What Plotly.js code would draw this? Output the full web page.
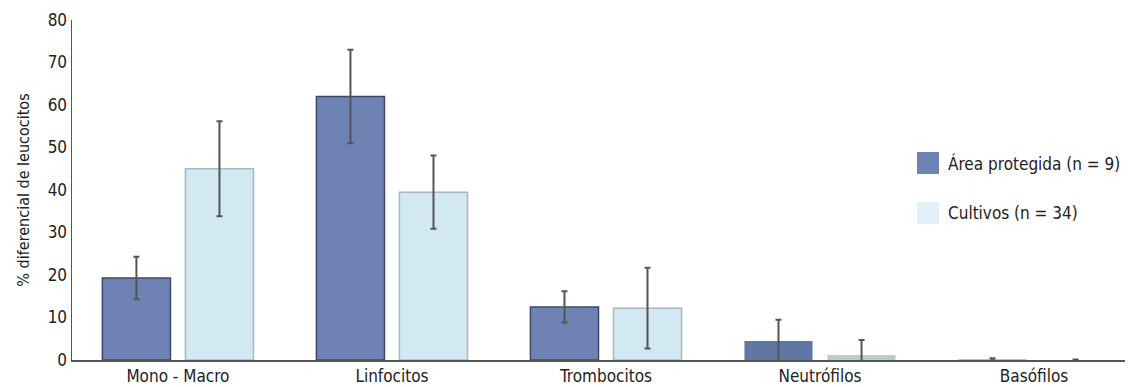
<!DOCTYPE html>
<html>
<head>
<meta charset="utf-8">
<script src="https://cdn.plot.ly/plotly-3.0.1.min.js"></script>
<style>html,body{margin:0;padding:0;background:#fff;}#chart{width:1129px;height:387px;}</style>
</head>
<body>
<div id="chart"></div>
<script>
const categories = ["Mono - Macro", "Linfocitos", "Trombocitos", "Neutrófilos", "Basófilos"];
const areaValues = [19.3, 62.0, 12.5, 4.5, 0.1];
const areaErrors = [5.0, 11.0, 3.7, 5.0, 0.3];
const cultivosValues = [45.0, 39.5, 12.2, 1.2, 0.0];
const cultivosErrors = [11.2, 8.6, 9.5, 3.5, 0.1];
const seriesNames = ["Área protegida (n = 9)", "Cultivos (n = 34)"];

const FONT = '"Liberation Sans Narrow", "DejaVu Sans Condensed", "Roboto Condensed", Arial, sans-serif';

const areaColors = ["#6e82b4", "#6e82b4", "#6e82b4", "#5f78a3", "#6e82b4"];
const areaLines = ["#3e4a6a", "#3e4a6a", "#3e4a6a", "#5f78a3", "#3e4a6a"];
const cultColors = ["#d2e8f2", "#d2e8f2", "#d2e8f2", "#b6cece", "#d2e8f2"];
const cultLines = ["#a9b8c0", "#a9b8c0", "#a9b8c0", "#b6cece", "#a9b8c0"];
const lineWidths = [1.5, 1.5, 1.5, 0, 0];

const traces = [
  {
    type: "bar", name: seriesNames[0], x: categories, y: areaValues, showlegend: false,
    marker: {color: areaColors, line: {color: areaLines, width: lineWidths}},
    error_y: {type: "data", array: areaErrors, visible: true, color: "#555555", thickness: 2, width: 3}
  },
  {
    type: "bar", name: seriesNames[1], x: categories, y: cultivosValues, showlegend: false,
    marker: {color: cultColors, line: {color: cultLines, width: lineWidths}},
    error_y: {type: "data", array: cultivosErrors, visible: true, color: "#555555", thickness: 2, width: 3}
  }
];

// legend drawn in pixel-like paper coordinates
const L = 72, T = 20, W = 1053, H = 340;
const px = v => (v - L) / W;
const py = v => 1 - (v - T) / H;

const legendItems = [
  {name: seriesNames[0], color: "#6e82b4", top: 152},
  {name: seriesNames[1], color: "#e2f1f7", top: 202}
];
const shapes = legendItems.map(it => ({
  type: "rect", xref: "paper", yref: "paper",
  x0: px(917), x1: px(939), y0: py(it.top + 22), y1: py(it.top),
  fillcolor: it.color, line: {width: 0}
}));
const annotations = legendItems.map(it => ({
  xref: "paper", yref: "paper", x: px(946), y: py(it.top + 11),
  xanchor: "left", yanchor: "middle", showarrow: false, text: it.name,
  font: {family: FONT, size: 17, color: "#222"}
}));

const layout = {
  width: 1129, height: 387,
  margin: {l: L, r: 1129 - L - W, t: T, b: 387 - T - H},
  paper_bgcolor: "#ffffff", plot_bgcolor: "#ffffff",
  font: {family: FONT, size: 17, color: "#222222"},
  barmode: "group", bargap: 0.224, bargroupgap: 0.18,
  showlegend: false,
  shapes: shapes, annotations: annotations,
  xaxis: {
    type: "category", range: [-0.495, 4.425], automargin: false,
    showline: true, linecolor: "#555555", linewidth: 1.5,
    showgrid: false, zeroline: false, ticks: "",
    tickfont: {family: FONT, size: 17, color: "#222"}
  },
  yaxis: {
    range: [0, 80], dtick: 10, automargin: false,
    showline: true, linecolor: "#555555", linewidth: 1.5,
    showgrid: false, zeroline: false, ticks: "",
    tickfont: {family: FONT, size: 17, color: "#222"},
    title: {text: "% diferencial de leucocitos", font: {family: FONT, size: 16, color: "#222"}, standoff: 14}
  }
};

Plotly.newPlot("chart", traces, layout, {displayModeBar: false, staticPlot: true});
</script>
</body>
</html>
